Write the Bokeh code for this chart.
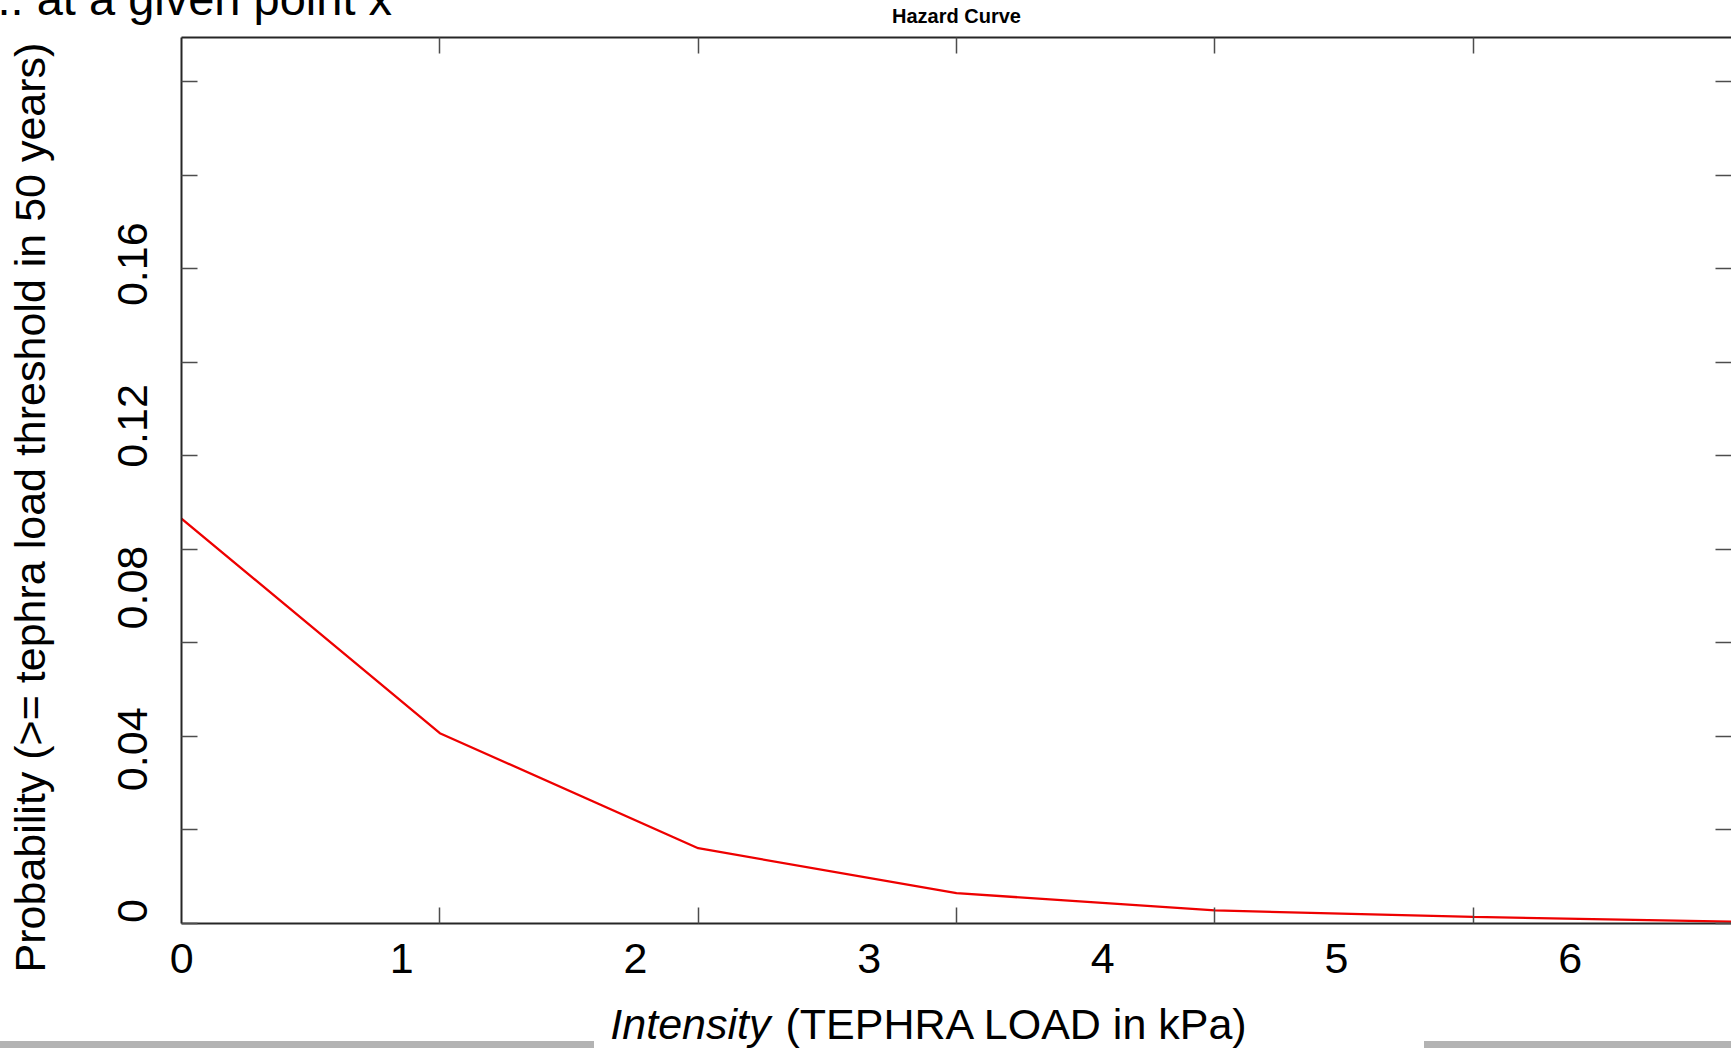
import math
from bokeh.plotting import figure
from bokeh.models import (Range1d, LinearAxis, FixedTicker, Label, Title,
                          NumeralTickFormatter, Div, Spacer)
from bokeh.layouts import column, row
from bokeh.embed import file_html
from bokeh.resources import INLINE

# ---------------- data ----------------
intensity = [0, 1, 2, 3, 4, 5, 6]
probability = [0.0866, 0.0407, 0.0161, 0.0065, 0.0028, 0.0014, 0.0004]

x_tick_values = [1, 2, 3, 4, 5]
y_tick_values = [0.0, 0.02, 0.04, 0.06, 0.08, 0.10, 0.12, 0.14, 0.16, 0.18]
x_label_values = [0, 1, 2, 3, 4, 5, 6]
y_label_values = [0.0, 0.04, 0.08, 0.12, 0.16]

title_text = "Hazard Curve"
y_title = "Probability (>= tephra load threshold in 50 years)"
x_title_italic = "Intensity"
x_title_rest = "(TEPHRA LOAD  in kPa)"
slide_text = ".. at a given point x"

# ---------------- layout constants ----------------
W, H = 1731, 1048
MT = 200                       # extra canvas hidden above the window
FL, FT, FB, FR = 181, 37, 923, 1731   # frame edges in window pixels
X0, X1 = 0, 6
Y0, Y1 = 0, 0.1895
FONT = "Liberation Sans"
MID = 0.3465                   # baseline-to-middle distance, in em


def px2x(px):
    return X0 + (px - FL) / (FR - FL) * (X1 - X0)


def px2y(py):
    return Y0 + (FB - py) / (FB - FT) * (Y1 - Y0)


def base2y(baseline_px, font_px):
    return px2y(baseline_px - MID * font_px)


p = figure(width=W, height=H + MT, output_backend="svg", toolbar_location=None,
           x_range=Range1d(X0, X1), y_range=Range1d(Y0, Y1),
           x_axis_type=None, y_axis_type=None,
           min_border_left=FL, min_border_right=0,
           min_border_top=FT + MT, min_border_bottom=H - FB,
           title=None, margin=(-MT, 0, 0, 0))
p.outline_line_color = None
p.background_fill_color = "white"
p.border_fill_color = "white"

# ranges of the slide's overlaid tick labels
XB0, XB1 = 0.058, 6.690
p.extra_x_ranges = {"big": Range1d(XB0, XB1)}
p.extra_y_ranges = {"big": Range1d(-0.0031, 0.2161)}


def main_axis(side, ticks, line=True):
    ax = LinearAxis(ticker=FixedTicker(ticks=ticks))
    ax.major_tick_in = 16
    ax.major_tick_out = 0
    ax.minor_tick_in = 0
    ax.minor_tick_out = 0
    ax.major_tick_line_color = "#4d4d4d"
    ax.major_tick_line_width = 1.5
    ax.axis_line_color = "#262626" if line else None
    ax.axis_line_width = 2
    ax.major_label_text_font_size = "0px"
    ax.major_label_text_color = None
    ax.major_label_standoff = 0
    p.add_layout(ax, side)
    return ax


main_axis("left", y_tick_values)
main_axis("right", y_tick_values, line=False)
main_axis("below", x_tick_values)
main_axis("above", x_tick_values)

# chart title, right above the frame
p.add_layout(Title(text=title_text, align="center", vertical_align="top",
                   standoff=18, text_font=FONT, text_font_size="20px",
                   text_font_style="bold", text_color="black"), "above")

# overlay (slide) tick labels
x_ticks_big = [max(v, XB0 + 0.0005) for v in x_label_values]
x_overrides = {t: str(v) for t, v in zip(x_ticks_big, x_label_values)}

yb = LinearAxis(y_range_name="big", ticker=FixedTicker(ticks=y_label_values),
                formatter=NumeralTickFormatter(format="0.[00]"))
xb = LinearAxis(x_range_name="big", ticker=FixedTicker(ticks=x_ticks_big),
                major_label_overrides=x_overrides)
for ax in (yb, xb):
    ax.axis_line_color = None
    ax.major_tick_line_color = None
    ax.minor_tick_line_color = None
    ax.major_tick_in = 0
    ax.major_tick_out = 0
    ax.minor_tick_in = 0
    ax.minor_tick_out = 0
    ax.major_label_text_font = FONT
    ax.major_label_text_font_size = "43px"
    ax.major_label_text_color = "black"
yb.major_label_orientation = "parallel"
yb.major_label_standoff = 34
xb.major_label_standoff = 20
p.add_layout(yb, "left")
p.add_layout(xb, "below")

# curve
p.line(intensity, probability, line_color="#ee0000", line_width=2.3)

# texts outside the frame (in side panels, so they are not clipped)
p.add_layout(Label(x=px2x(29), y=px2y(507), text=y_title, angle=math.pi / 2,
                   text_align="center", text_baseline="middle",
                   text_font=FONT, text_font_size="43px", text_color="black"),
             "left")
p.add_layout(Label(x=px2x(-3), y=base2y(14, 47), text=slide_text,
                   text_align="left", text_baseline="middle",
                   text_font=FONT, text_font_size="47px", text_color="black"),
             "above")
p.add_layout(Label(x=px2x(770), y=base2y(1038, 43), text=x_title_italic,
                   text_align="right", text_baseline="middle",
                   text_font=FONT, text_font_size="43px", text_font_style="italic",
                   text_color="black"), "above")
p.add_layout(Label(x=px2x(785), y=base2y(1038, 43), text=x_title_rest,
                   text_align="left", text_baseline="middle",
                   text_font=FONT, text_font_size="43px", text_color="black"),
             "above")

# slide decoration bars
bar_color = "#b3b3b3"
left_bar = Div(text="", width=594, height=7, margin=0,
               styles={"background-color": bar_color})
gap = Spacer(width=W - 594 - 307, height=7, margin=0)
right_bar = Div(text="", width=307, height=7, margin=0,
                styles={"background-color": bar_color})
bars = row(left_bar, gap, right_bar, spacing=0, margin=(-7, 0, 0, 0))
layout = column(p, bars, spacing=0)

open("out.html", "w").write(file_html(layout, INLINE))
